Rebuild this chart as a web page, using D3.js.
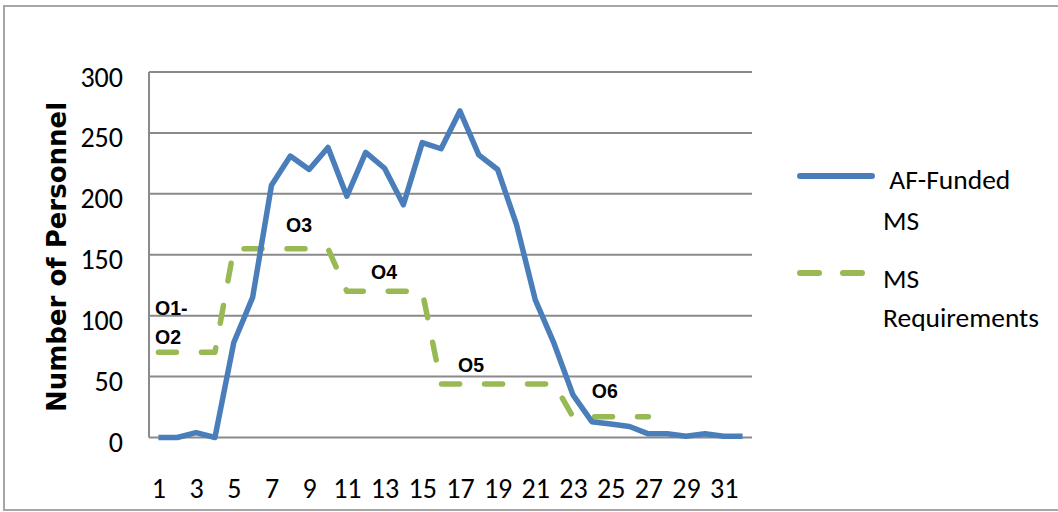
<!DOCTYPE html>
<html>
<head>
<meta charset="utf-8">
<script src="https://cdn.jsdelivr.net/npm/d3@7"></script>
<style>
  html, body { margin: 0; padding: 0; background: #fff; }
  svg { display: block; }
</style>
</head>
<body>
<svg id="chart" width="1058" height="512"></svg>
<script>
// ---- data ----
const categories = d3.range(1, 33); // 1..32
const xTickLabels = [1, 3, 5, 7, 9, 11, 13, 15, 17, 19, 21, 23, 25, 27, 29, 31];
const yTickValues = [0, 50, 100, 150, 200, 250, 300];
const afFunded = [0, 0, 4, 0, 78, 115, 207, 231, 220, 238, 198, 234, 221, 191, 242, 237,
                  268, 232, 220, 175, 113, 77, 35, 13, 11, 9, 3, 3, 1, 3, 1, 1];
const msRequirements = [70, 70, 70, 70, 155, 155, 155, 155, 155, 155, 120, 120, 120, 120, 120,
                        44, 44, 44, 44, 44, 44, 44, 17, 17, 17, 17, 17];
const phaseLabels = ["O1-", "O2", "O3", "O4", "O5", "O6"];
const phaseLabelCat = [0.82, 0.82, 7.77, 12.28, 16.9, 24.0];
const phaseLabelVal = [100.5, 76.7, 168.7, 130, 53.8, 32.4];
const seriesNames = [[" AF-Funded", "MS"], ["MS", "Requirements"]];

// ---- layout ----
const svg = d3.select("#chart");
const plot = { left: 149, right: 752, top: 72, bottom: 437.5 };
const x = d3.scaleLinear().domain([0.5, categories.length + 0.5]).range([plot.left, plot.right]);
const y = d3.scaleLinear().domain([0, 300]).range([plot.bottom, plot.top]);

const tickFont = "Carlito, Calibri, Lato, sans-serif";
const gridColor = "#8a8a8a";
const blue = "#4a7ebb";
const green = "#98b954";

// outer chart border (right edge off-canvas)
svg.append("rect")
  .attr("x", 4).attr("y", 6).attr("width", 1100).attr("height", 504)
  .attr("fill", "none").attr("stroke", "#a6a6a6").attr("stroke-width", 2);

// gridlines
svg.append("g").selectAll("line").data(yTickValues).join("line")
  .attr("x1", plot.left).attr("x2", plot.right)
  .attr("y1", d => y(d)).attr("y2", d => y(d))
  .attr("stroke", gridColor).attr("stroke-width", 2);

// left axis line
svg.append("line")
  .attr("x1", plot.left).attr("x2", plot.left)
  .attr("y1", plot.top).attr("y2", plot.bottom)
  .attr("stroke", gridColor).attr("stroke-width", 2);

// y axis labels
const yAxis = d3.axisLeft(y).tickValues(yTickValues).tickSize(0).tickPadding(26);
const gy = svg.append("g").attr("transform", `translate(${plot.left},0)`).call(yAxis);
gy.select(".domain").remove();
gy.selectAll("text").attr("font-family", tickFont).attr("font-size", 28)
  .attr("fill", "#000").attr("dy", "0.5em");

// x axis labels
const xAxis = d3.axisBottom(x).tickValues(xTickLabels).tickSize(0).tickPadding(44).tickFormat(d3.format("d"));
const gx = svg.append("g").attr("transform", `translate(0,${plot.bottom})`).call(xAxis);
gx.select(".domain").remove();
gx.selectAll("text").attr("font-family", tickFont).attr("font-size", 28)
  .attr("fill", "#000").attr("dy", "0.6em");

// y axis title
svg.append("text")
  .attr("transform", `translate(66,257) rotate(-90)`)
  .attr("text-anchor", "middle")
  .attr("font-family", "'DejaVu Sans', sans-serif")
  .attr("font-weight", "bold").attr("font-size", 26)
  .text("Number of Personnel");

// lines
const line = d3.line().x((d, i) => x(i + 1)).y(d => y(d));

svg.append("path").datum(msRequirements)
  .attr("d", line).attr("fill", "none")
  .attr("stroke", green).attr("stroke-width", 5.5)
  .attr("stroke-linecap", "round").attr("stroke-linejoin", "round")
  .attr("stroke-dasharray", "18,25");

svg.append("path").datum(afFunded)
  .attr("d", line).attr("fill", "none")
  .attr("stroke", blue).attr("stroke-width", 5.5)
  .attr("stroke-linejoin", "round");

// phase labels
svg.append("g").selectAll("text").data(phaseLabels).join("text")
  .attr("x", (d, i) => x(phaseLabelCat[i]))
  .attr("y", (d, i) => y(phaseLabelVal[i]))
  .attr("font-family", "'Liberation Sans', Arial, sans-serif")
  .attr("font-weight", "bold").attr("font-size", 19.5)
  .text(d => d);

// legend
const legend = svg.append("g");
const legY = [176, 273];
const legBase = [[189, 230], [288, 327]];
const legTextX = [[883, 883], [883, 883]];
legend.append("line").attr("x1", 800).attr("x2", 872).attr("y1", legY[0]).attr("y2", legY[0])
  .attr("stroke", blue).attr("stroke-width", 6).attr("stroke-linecap", "round");
legend.append("line").attr("x1", 800).attr("x2", 866).attr("y1", legY[1]).attr("y2", legY[1])
  .attr("stroke", green).attr("stroke-width", 6).attr("stroke-linecap", "round")
  .attr("stroke-dasharray", "19,24");
seriesNames.forEach((lines, si) => {
  lines.forEach((t, li) => {
    legend.append("text")
      .attr("x", legTextX[si][li]).attr("y", legBase[si][li])
      .attr("font-family", tickFont).attr("font-size", 27.5)
      .attr("xml:space", "preserve").style("white-space", "pre")
      .text(t);
  });
});
</script>
</body>
</html>
